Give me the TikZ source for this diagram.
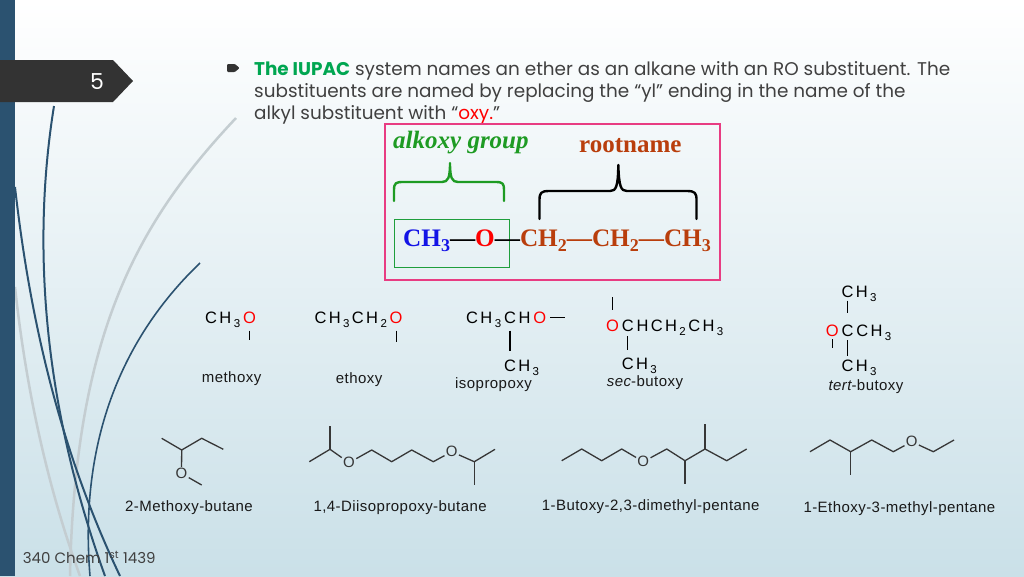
\documentclass[tikz,border=0pt]{standalone}
\usepackage{fontspec}
\setmainfont{Liberation Serif}
\newfontfamily\gothic{Poppins}
\newfontfamily\frmfont[LetterSpace=14.5]{Liberation Sans}
\newfontfamily\labfont[LetterSpace=3]{Liberation Sans}
\newfontfamily\atomfont{Liberation Sans}
\usetikzlibrary{calc}
\definecolor{barblue}{RGB}{43,82,112}
\definecolor{tabgray}{RGB}{51,51,51}
\definecolor{bgtop}{RGB}{255,255,255}
\definecolor{bgmid}{RGB}{232,241,244}
\definecolor{bgbot}{RGB}{202,224,232}
\definecolor{curvegray}{RGB}{196,205,209}
\definecolor{textgray}{RGB}{64,64,64}
\definecolor{iupacgreen}{RGB}{0,166,81}
\definecolor{oxyred}{RGB}{255,0,0}
\definecolor{pinkbox}{RGB}{232,60,130}
\definecolor{alkgreen}{RGB}{30,155,35}
\definecolor{rootbrown}{RGB}{185,62,12}
\definecolor{chblue}{RGB}{20,20,230}
\definecolor{boxgreen}{RGB}{30,158,60}
\definecolor{skelgray}{RGB}{55,55,55}
\newcommand{\lsk}{\kern2.4pt}
\newcommand{\fsub}[1]{\lsk\raisebox{-3.7pt}{\fontsize{11.5}{11.5}\selectfont #1}\lsk}
\newcommand{\bsub}[1]{\raisebox{-5pt}{\fontsize{18}{18}\selectfont #1}}
\begin{document}
\begin{tikzpicture}[x=1pt,y=-1pt,
  frm/.style={font=\frmfont\fontsize{16.5}{16.5}\selectfont, inner sep=0pt, anchor=base west, text=black},
  lab/.style={font=\labfont\fontsize{15}{15}\selectfont, inner sep=0pt, anchor=base west, text=black!90},
  mtext/.style={font=\gothic\fontsize{18.4}{18.4}\selectfont, inner sep=0pt, anchor=base west, text=textgray},
  atom/.style={font=\atomfont\fontsize{15}{15}\selectfont, inner sep=1.2pt, text=skelgray},
  bond/.style={draw=black, line width=1.2pt},
  skel/.style={draw=skelgray, line width=1.3pt, line join=round},
  darkcurve/.style={draw=barblue, line width=2pt},
  lightcurve/.style={draw=curvegray, line width=2.5pt},
  bracestyle/.style={line width=2.4pt, line cap=round, line join=round}]
\useasboundingbox (0,0) rectangle (1024,576);
\shade[top color=bgtop, middle color=bgmid, bottom color=bgbot] (0,0) rectangle (1024,576);
% decorative curves
\draw[lightcurve] (236,118) .. controls (140,220) and (75,330) .. (70,576);
\draw[lightcurve] (15,287) .. controls (25,380) and (45,480) .. (80,576);
\draw[darkcurve] (54,106) .. controls (34,230) and (38,390) .. (105,576);
\draw[darkcurve] (15,187) .. controls (30,320) and (60,450) .. (120,576);
\draw[darkcurve, line width=1.6pt] (200,263) .. controls (130,330) and (78,430) .. (90,576);
% left bar and tab
\fill[barblue] (0,0) rectangle (15,576);
\fill[tabgray] (0,60) -- (113,60) -- (133,81) -- (113,102) -- (0,102) -- cycle;
\node[font=\gothic\fontsize{22}{22}\selectfont, text=white] (num) at (97,82) {5};
% bullet
\fill[tabgray, rounded corners=1pt] (227,64) -- (235,64) -- (239.5,68) -- (235,72) -- (227,72) -- cycle;
% paragraph
\node[mtext] (l1) at (254,75) {{\color{iupacgreen}\bfseries The IUPAC} system names an ether as an alkane with an RO substituent. The};
\node[mtext] (l2) at (254,97) {substituents are named by replacing the “yl” ending in the name of the};
\node[mtext] (l3) at (254,119) {alkyl substituent with “{\color{oxyred}oxy.}”};
% pink box
\draw[pinkbox, line width=1.2pt] (385,124) rectangle (720,280);
\node[anchor=base west, inner sep=0pt, font=\fontsize{25}{25}\selectfont\bfseries\itshape, text=alkgreen] (alk) at (393,148) {alkoxy group};
\node[anchor=base west, inner sep=0pt, font=\fontsize{25}{25}\selectfont\bfseries, text=rootbrown] (root) at (579,152) {rootname};
% braces
\draw[alkgreen, bracestyle] (394,201) -- (394,190) .. controls (394,183) and (396,182) .. (403,182) -- (442,182) .. controls (448,182) and (450,178) .. (450,163) .. controls (450,178) and (452,182) .. (458,182) -- (496,182) .. controls (503,182) and (504,184) .. (504,190) -- (504,201);
\draw[black, bracestyle] (539.5,219) -- (539.5,200) .. controls (539.5,193) and (541,191) .. (549,191) -- (610,191) .. controls (616,191) and (618,187) .. (618.3,165) .. controls (619,187) and (621,191) .. (627,191) -- (687,191) .. controls (695,191) and (696.5,193) .. (696.5,200) -- (696.5,219);
\draw[boxgreen, line width=1.1pt] (394.5,219.5) rectangle (509.5,267.5);
\node[anchor=base west, inner sep=0pt, font=\fontsize{25.2}{25.2}\selectfont\bfseries] (frm) at (403,246) {\textcolor{chblue}{CH\bsub{3}}—\textcolor{oxyred}{O}—\textcolor{rootbrown}{CH\bsub{2}—CH\bsub{2}—CH\bsub{3}}};
% methoxy
\node[frm] (m1) at (205,323.3) {CH\fsub{3}};
\node[frm, text=oxyred] (m1o) at (m1.base east) {O};
\draw[bond] ($(m1o.base)+(0,7.4)$) -- ++(0,9.5);
\node[lab] (mlab) at (201.7,382.5) {methoxy};
% ethoxy
\node[frm] (e1) at (314.3,323.3) {CH\fsub{3}CH\fsub{2}};
\node[frm, text=oxyred] (e1o) at (e1.base east) {O};
\draw[bond] ($(e1o.base)+(0,7.4)$) -- ++(0,11);
\node[lab] (elab) at (335.7,383.3) {ethoxy};
% isopropoxy
\node[frm] (i1) at (466,323.3) {CH\fsub{3}};
\node[frm] (i1c) at (i1.base east) {C};
\node[frm] (i1h) at ($(i1c.base east)+(2.4,0)$) {H};
\node[frm, text=oxyred] (i1o) at ($(i1h.base east)+(2.4,0)$) {O};
\draw[bond] ($(i1o.base east)+(4,-5.8)$) -- ++(15,0);
\draw[bond] ($(i1c.base)+(0,7.4)$) -- ++(0,20.5);
\node[frm] (i2) at ($(i1c.base west)+(0,48.4)$) {CH\fsub{3}};
\node[lab] (ilab) at (455,388) {isopropoxy};
% sec-butoxy
\node[frm, text=oxyred] (s1o) at (606,331.7) {O};
\node[frm] (s1c) at ($(s1o.base east)+(2.4,0)$) {C};
\node[frm] (s1r) at ($(s1c.base east)+(2.4,0)$) {HCH\fsub{2}CH\fsub{3}};
\draw[bond] ($(s1o.base)+(0,-34.4)$) -- ++(0,12.7);
\draw[bond] ($(s1c.base)+(0,4.3)$) -- ++(0,14);
\node[frm] (s2) at ($(s1c.base west)+(0,37.6)$) {CH\fsub{3}};
\node[lab] (slab) at (606.7,386.7) {{\itshape sec}-butoxy};
% tert-butoxy
\node[frm, text=oxyred] (t1o) at (825.7,336.7) {O};
\node[frm] (t1c) at ($(t1o.base east)+(2.4,0)$) {C};
\node[frm] (t1r) at ($(t1c.base east)+(2.4,0)$) {CH\fsub{3}};
\node[frm] (t0) at ($(t1c.base west)+(0,-39.4)$) {CH\fsub{3}};
\node[frm] (t2) at ($(t1c.base west)+(0,35)$) {CH\fsub{3}};
\draw[bond] ($(t1c.base)+(0,-36)$) -- ++(0,12.6);
\draw[bond] ($(t1c.base)+(0,3.3)$) -- ++(0,16);
\draw[bond] ($(t1o.base)+(0,2.6)$) -- ++(0,9);
\node[lab] (tlab) at (828.3,390) {{\itshape tert}-butoxy};
% 2-Methoxy-butane
\node[atom] (mb) at (181.5,473.5) {O};
\draw[skel] (161.7,438.3) -- (181.7,450) -- (201.7,438.3) -- (223.3,449.3);
\draw[skel] (181.7,450) -- (mb) -- (201.7,485);
\node[lab] (n1) at (125,511.7) {2-Methoxy-butane};
% 1,4-Diisopropoxy-butane
\node[atom] (d1) at (349,462.7) {O};
\node[atom] (d2) at (451.7,451.7) {O};
\draw[skel] (309.3,461.7) -- (330,449.3) -- (d1) -- (371.7,450) -- (391.7,461.7) -- (411.7,450) -- (433.3,461.7) -- (d2) -- (474.3,461.7) -- (495,449.3);
\draw[skel] (330,449.3) -- (330,426);
\draw[skel] (474.3,461.7) -- (474.3,485);
\node[lab] (n2) at (313.3,511.7) {1,4-Diisopropoxy-butane};
% 1-Butoxy-2,3-dimethyl-pentane
\node[atom] (b1) at (643.3,461.7) {O};
\draw[skel] (561.7,460.7) -- (581.7,449) -- (601.7,460.7) -- (621.7,449) -- (b1) -- (666.7,449) -- (685,460.7) -- (705,449) -- (726.7,460.7) -- (746.7,449);
\draw[skel] (685,460.7) -- (685,484);
\draw[skel] (705,449) -- (705,424);
\node[lab] (n3) at (541.7,510) {1-Butoxy-2,3-dimethyl-pentane};
% 1-Ethoxy-3-methyl-pentane
\node[atom] (x1) at (911.7,441.7) {O};
\draw[skel] (810,451.7) -- (830,440) -- (850.7,451.7) -- (871.7,440) -- (893.3,451.7) -- (x1) -- (933.3,451.7) -- (954,440);
\draw[skel] (850.7,451.7) -- (850.7,475);
\node[lab] (n4) at (803.3,512.7) {1-Ethoxy-3-methyl-pentane};
% footer
\node[anchor=base west, inner sep=0pt, font=\gothic\fontsize{15}{15}\selectfont, text=textgray] (ft) at (22.7,563.3) {340 Chem 1\textsuperscript{st} 1439};
\end{tikzpicture}
\end{document}
